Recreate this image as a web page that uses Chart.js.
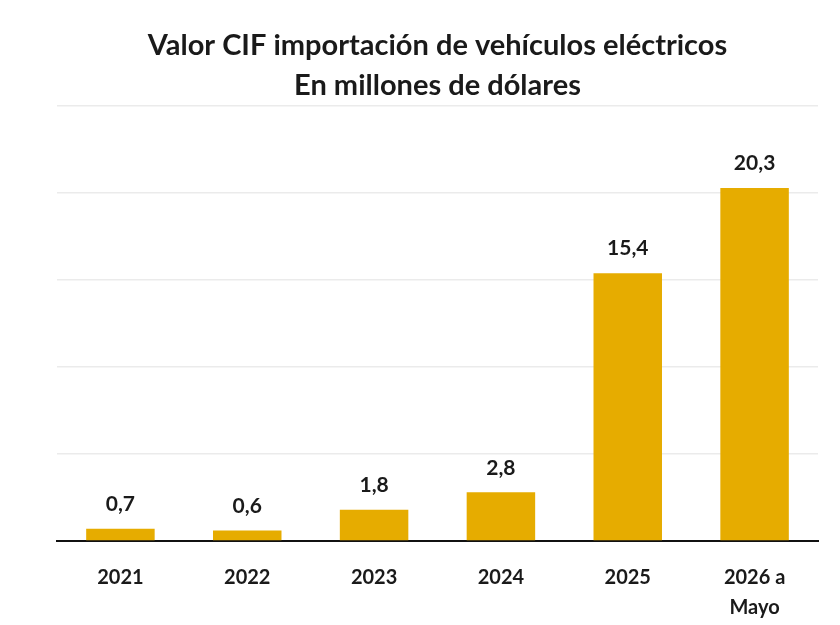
<!DOCTYPE html>
<html lang="es">
<head>
    <meta charset="UTF-8">
    <title>Valor CIF importación de vehículos eléctricos</title>
    <style>
        body { margin: 0; background: #fff; }
        #wrap { width: 840px; height: 625px; }
    </style>
</head>
<body>
    <div id="wrap">
        <canvas id="myChart" width="840" height="625"></canvas>
    </div>

<script src="https://cdn.jsdelivr.net/npm/chart.js"></script>
<script>
    const years = ['2021', '2022', '2023', '2024', '2025', ['2026 a', 'Mayo']];
    const valores = [0.7, 0.6, 1.8, 2.8, 15.4, 20.3];
    const titulo = ['Valor CIF importación de vehículos eléctricos', 'En millones de dólares'];

    const fontFam = 'Lato, "Open Sans", sans-serif';

    // etiquetas encima de cada barra
    const barLabels = {
        id: 'barLabels',
        afterDatasetsDraw(chart) {
            const ctx = chart.ctx;
            const meta = chart.getDatasetMeta(0);
            ctx.save();
            ctx.font = 'bold 21px ' + fontFam;
            ctx.fillStyle = '#1a1a1a';
            ctx.textAlign = 'center';
            ctx.textBaseline = 'bottom';
            meta.data.forEach((bar, i) => {
                const txt = valores[i].toFixed(1).replace('.', ',');
                ctx.fillText(txt, bar.x, bar.y - 14);
            });
            ctx.restore();
        }
    };

    new Chart(document.getElementById('myChart'), {
        type: 'bar',
        data: {
            labels: years,
            datasets: [{
                data: valores,
                backgroundColor: '#E6AC00',
                barPercentage: 0.54,
                categoryPercentage: 1
            }]
        },
        options: {
            responsive: false,
            animation: false,
            layout: { padding: { top: 25, left: 57, right: 22, bottom: 0 } },
            plugins: {
                legend: { display: false },
                tooltip: { enabled: false },
                title: {
                    display: true,
                    text: titulo,
                    color: '#1a1a1a',
                    font: { family: fontFam, size: 29, weight: 'bold', lineHeight: 1.4 },
                    padding: { top: 0, bottom: 0 }
                }
            },
            scales: {
                x: {
                    grid: { display: false },
                    border: { color: '#111', width: 2 },
                    afterFit(scale) { scale.height -= 12; },
                    ticks: {
                        color: '#1a1a1a',
                        padding: 14,
                        maxRotation: 0,
                        font: { family: fontFam, size: 20, weight: 'bold', lineHeight: 1.5 }
                    }
                },
                y: {
                    min: 0,
                    max: 25,
                    ticks: { display: false, stepSize: 5 },
                    border: { display: false },
                    grid: { color: '#ebebeb', lineWidth: 1.5, drawTicks: false }
                }
            }
        },
        plugins: [barLabels]
    });
</script>
</body>
</html>
